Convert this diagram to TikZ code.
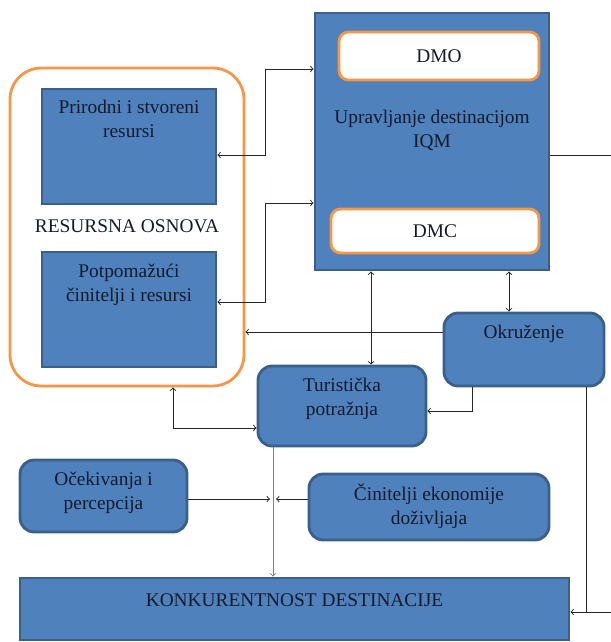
\documentclass[tikz,border=0pt]{standalone}
\usepackage{fontspec}
\setmainfont{Liberation Serif}
\usepackage{tikz}
\usetikzlibrary{arrows, positioning}
\usepackage{xcolor}

\definecolor{boxblue}{HTML}{4F81BD}
\definecolor{boxedge}{HTML}{3A5F8B}
\definecolor{boxorange}{HTML}{F79646}
\definecolor{textnavy}{HTML}{141A2A}

\tikzset{
  bluebox/.style={draw=boxedge, fill=boxblue, line width=1.8pt, inner sep=0pt},
  roundbox/.style={bluebox, rounded corners=9pt},
  whitebox/.style={draw=boxorange, fill=white, line width=1.8pt, rounded corners=6pt, inner sep=0pt},
  boxtext/.style={text=textnavy, align=center, font=\fontsize{12.4}{15.4}\selectfont},
  conn/.style={draw=black!85, line width=0.6pt}
}

\begin{document}
\begin{tikzpicture}[x=0.0225cm, y=-0.0225cm, >=to]
  \useasboundingbox (0,0) rectangle (611,642);

  % Resource base, the orange frame with its two boxes.
  \node [
    draw=boxorange,
    line width=1.8pt,
    rounded corners=20pt,
    minimum width=234*0.0225cm,
    minimum height=318*0.0225cm] (resbase) at (127,227) {};
  \node [bluebox, minimum width=174*0.0225cm, minimum height=115*0.0225cm] (prirodni) at (129,146.5) {};
  \node [boxtext] (prirodnitxt) at (129,119) {Prirodni i stvoreni\\resursi};
  \node [bluebox, minimum width=174*0.0225cm, minimum height=115*0.0225cm] (potpom) at (129,309.5) {};
  \node [boxtext] (potpomtxt) at (129,284.5) {Potpomažući\\činitelji i resursi};
  \node [boxtext] (resbasetxt) at (127,226) {RESURSNA OSNOVA};

  % Destination management with DMO and DMC.
  \node [bluebox, minimum width=234*0.0225cm, minimum height=257*0.0225cm] (iqm) at (432,141.5) {};
  \node [whitebox, minimum width=200*0.0225cm, minimum height=48*0.0225cm] (dmo) at (439,56) {};
  \node [boxtext] (dmotxt) at (dmo) {DMO};
  \node [boxtext] (iqmtxt) at (432,130) {Upravljanje destinacijom\\IQM};
  \node [whitebox, minimum width=208*0.0225cm, minimum height=44*0.0225cm] (dmc) at (435,231) {};
  \node [boxtext] (dmctxt) at (dmc) {DMC};

  % Environment, demand and the other factors.
  \node [roundbox, minimum width=160*0.0225cm, minimum height=73*0.0225cm] (okr) at (524,349.5) {};
  \node [boxtext] (okrtxt) at (524,334) {Okruženje};
  \node [roundbox, minimum width=168*0.0225cm, minimum height=80*0.0225cm] (tur) at (342,406) {};
  \node [boxtext] (turtxt) at (342,399) {Turistička\\potražnja};
  \node [roundbox, minimum width=167*0.0225cm, minimum height=72*0.0225cm] (ocek) at (103.5,496) {};
  \node [boxtext] (ocektxt) at (103.5,492.5) {Očekivanja i\\percepcija};
  \node [roundbox, minimum width=240*0.0225cm, minimum height=66*0.0225cm] (cinit) at (429,507) {};
  \node [boxtext] (cinittxt) at (429,506) {Činitelji ekonomije\\doživljaja};

  % Competitiveness of the destination.
  \node [bluebox, minimum width=549*0.0225cm, minimum height=62*0.0225cm] (konk) at (294.5,609) {};
  \node [boxtext] (konktxt) at (294.5,600) {KONKURENTNOST DESTINACIJE};

  % Connectors
  \coordinate (r1) at (265,155);
  \coordinate (r2) at (265,69);
  \coordinate (r3) at (265,302);
  \coordinate (r4) at (265,203);
  \draw [conn, <->] (prirodni.east |- r1) -- (r1) -- (r2) -- (iqm.west |- r2);
  \draw [conn, <->] (potpom.east |- r3) -- (r3) -- (r4) -- (iqm.west |- r4);

  \coordinate (edgeA) at (611,155);
  \draw [conn] (iqm.east |- edgeA) -- (edgeA);

  \coordinate (t1) at (371,320);
  \coordinate (o1) at (509,290);
  \draw [conn, <->] (iqm.south -| t1) -- (tur.north -| t1);
  \draw [conn, <->] (iqm.south -| o1) -- (okr.north -| o1);

  \coordinate (o2) at (420,332);
  \draw [conn, ->] (okr.west |- o2) -- (resbase.east |- o2);
  \coordinate (o3) at (472,411);
  \draw [conn, ->] (okr.south -| o3) -- (o3) -- (tur.east |- o3);
  \coordinate (o4) at (586,612);
  \coordinate (edgeB) at (611,612);
  \draw [conn, ->] (okr.south -| o4) -- (o4) -- (konk.east |- o4);
  \draw [conn] (edgeB) -- (o4);

  \coordinate (d1) at (173,428);
  \draw [conn, <->] (resbase.south -| d1) -- (d1) -- (tur.west |- d1);

  \coordinate (k1) at (273,499);
  \coordinate (k1l) at (270,499);
  \coordinate (k1r) at (276,499);
  \draw [conn, draw=gray, ->] (tur.south -| k1) -- (konk.north -| k1);
  \draw [conn, ->] (ocek.east |- k1l) -- (k1l);
  \draw [conn, ->] (cinit.west |- k1r) -- (k1r);
\end{tikzpicture}
\end{document}
